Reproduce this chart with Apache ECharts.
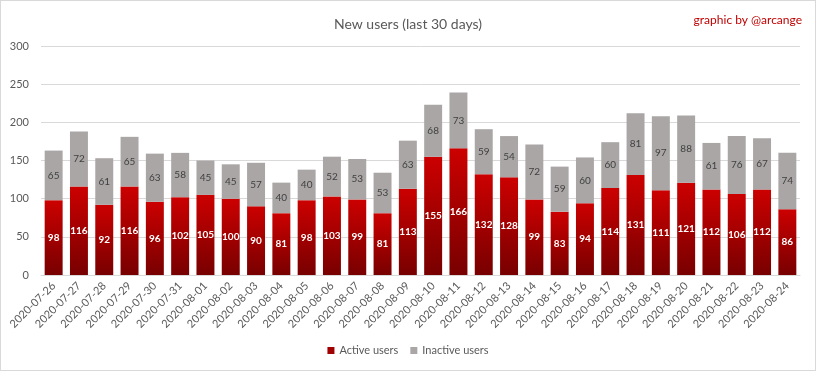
<!DOCTYPE html>
<html><head><meta charset="utf-8">
<script src="https://cdn.jsdelivr.net/npm/echarts@6/dist/echarts.min.js"></script>
<style>
html,body{margin:0;padding:0;background:#fff;}
#c{width:814px;height:369px;border:1px solid #d9d9d9;}
</style></head>
<body><div id="c"></div>
<script>
const categories = ["2020-07-26","2020-07-27","2020-07-28","2020-07-29","2020-07-30","2020-07-31","2020-08-01","2020-08-02","2020-08-03","2020-08-04","2020-08-05","2020-08-06","2020-08-07","2020-08-08","2020-08-09","2020-08-10","2020-08-11","2020-08-12","2020-08-13","2020-08-14","2020-08-15","2020-08-16","2020-08-17","2020-08-18","2020-08-19","2020-08-20","2020-08-21","2020-08-22","2020-08-23","2020-08-24"];
const activeUsers = [98,116,92,116,96,102,105,100,90,81,98,103,99,81,113,155,166,132,128,99,83,94,114,131,111,121,112,106,112,86];
const inactiveUsers = [65,72,61,65,63,58,45,45,57,40,40,52,53,53,63,68,73,59,54,72,59,60,60,81,97,88,61,76,67,74];
const yTicks = [0,50,100,150,200,250,300];

const FONT = 'Lato, "Open Sans", sans-serif';
const chart = echarts.init(document.getElementById('c'), null, {renderer:'canvas'});
chart.setOption({
  animation:false,
  textStyle:{fontFamily:FONT},
  title:[
    {text:'New users (last 30 days)', left:'center', top:11, textStyle:{fontFamily:FONT, fontSize:14, fontWeight:'normal', color:'#595959'}},
    {text:'graphic by @arcange', right:8, top:8, textStyle:{fontFamily:FONT, fontSize:12, fontWeight:'normal', color:'#c00000'}}
  ],
  legend:{
    bottom:9, left:'center', itemWidth:7, itemHeight:7, itemGap:12,
    icon:'rect',
    textStyle:{fontFamily:FONT, fontSize:11, color:'#595959'},
    data:[{name:'Active users', itemStyle:{color:'#a00000'}},{name:'Inactive users', itemStyle:{color:'#aaa6a6'}}]
  },
  grid:{left:40, right:15, top:45, bottom:95, containLabel:false},
  xAxis:{
    type:'category', data:categories,
    axisLine:{lineStyle:{color:'#d9d9d9'}},
    axisTick:{show:false},
    axisLabel:{rotate:45, color:'#595959', fontSize:11, fontFamily:FONT, interval:0, margin:9}
  },
  yAxis:{
    type:'value', min:yTicks[0], max:yTicks[yTicks.length-1], interval:50,
    axisLine:{show:false}, axisTick:{show:false},
    axisLabel:{color:'#595959', fontSize:11, fontFamily:FONT, margin:12},
    splitLine:{lineStyle:{color:'#d9d9d9'}}
  },
  series:[
    {name:'Active users', type:'bar', stack:'u', data:activeUsers, barCategoryGap:'29%',
     itemStyle:{color:new echarts.graphic.LinearGradient(0,0,0,1,[{offset:0,color:'#cc0000'},{offset:1,color:'#780000'}])},
     label:{show:true, position:'inside', color:'#fff', fontWeight:'bold', fontSize:10, fontFamily:FONT}},
    {name:'Inactive users', type:'bar', stack:'u', data:inactiveUsers,
     itemStyle:{color:'#aaa6a6'},
     label:{show:true, position:'inside', color:'#404040', fontSize:10, fontFamily:FONT}}
  ]
});
</script></body></html>
